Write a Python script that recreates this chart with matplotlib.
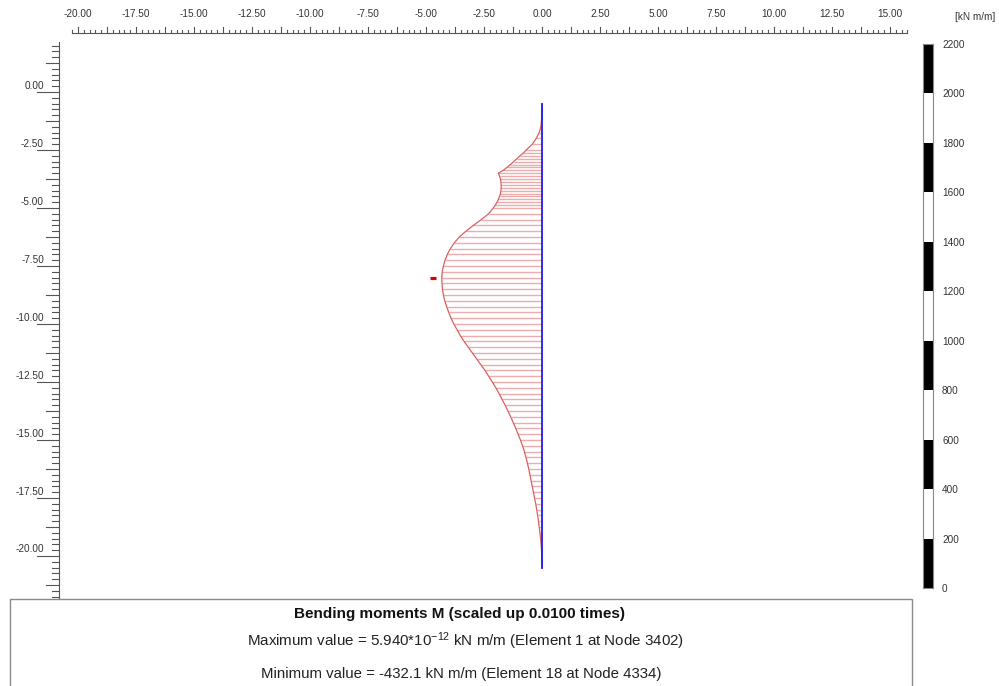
import numpy as np
import matplotlib
matplotlib.use("Agg")
import matplotlib.pyplot as plt
from matplotlib.patches import Rectangle

plt.rcParams['font.family'] = ['Liberation Sans', 'DejaVu Sans']
plt.rcParams['mathtext.default'] = 'regular'

# ---------------- data ----------------
depth = [-0.50, -0.75, -1.00, -1.25, -1.50, -1.75, -2.00, -2.25, -2.50,
         -2.625, -2.75, -2.875, -3.00, -3.125, -3.25, -3.375, -3.50,
         -3.625, -3.75, -3.875, -4.00, -4.125, -4.25, -4.375, -4.50,
         -4.625, -4.75, -4.875, -5.00, -5.25, -5.50, -5.75, -6.00,
         -6.25, -6.50, -6.75, -7.00, -7.25, -7.50, -7.75, -8.00,
         -8.25, -8.50, -8.75, -9.00, -9.25, -9.50, -9.75, -10.00,
         -10.25, -10.50, -10.75, -11.00, -11.25, -11.50, -11.75, -12.00,
         -12.25, -12.50, -12.75, -13.00, -13.25, -13.50, -13.75, -14.00,
         -14.25, -14.50, -14.75, -15.00, -15.25, -15.50, -15.75, -16.00,
         -16.25, -16.50, -16.75, -17.00, -17.25, -17.50, -17.75, -18.00,
         -18.25, -18.50, -18.75, -19.00, -19.25, -19.50, -19.75, -20.00,
         -20.25, -20.50]
moment = [0.0, -0.3, -1.0, -2.5, -5.0, -12.0, -25.0, -42.0, -68.0,
          -80.0, -95.0, -108.0, -122.0, -136.0, -151.0, -167.0, -188.0,
          -183.0, -179.0, -177.0, -176.0, -176.0, -177.0, -179.0, -183.0,
          -188.0, -194.0, -201.0, -210.0, -230.0, -262.0, -296.0, -328.0,
          -356.0, -378.0, -395.0, -408.0, -418.0, -425.0, -430.0, -432.1,
          -431.0, -429.0, -425.0, -419.0, -411.0, -402.0, -392.0, -380.0,
          -366.0, -352.0, -336.0, -318.0, -300.0, -282.0, -264.0, -246.0,
          -230.0, -214.0, -199.0, -185.0, -172.0, -159.0, -147.0, -135.0,
          -124.0, -113.0, -103.0, -93.0, -84.0, -76.0, -69.0, -63.0,
          -57.0, -52.0, -47.0, -42.0, -37.0, -32.0, -27.0, -23.0,
          -19.0, -15.0, -12.0, -9.0, -6.0, -4.0, -2.0, -1.0,
          -0.3, 0.0]
scale_factor = 0.01
x_label_values = [-20.0, -17.5, -15.0, -12.5, -10.0, -7.5, -5.0, -2.5, 0.0,
                  2.5, 5.0, 7.5, 10.0, 12.5, 15.0]
y_label_values = [0.0, -2.5, -5.0, -7.5, -10.0, -12.5, -15.0, -17.5, -20.0]
legend_levels = [0, 200, 400, 600, 800, 1000, 1200, 1400, 1600, 1800, 2000, 2200]
legend_unit = "[kN m/m]"
title_text = "Bending moments M (scaled up 0.0100 times)"
max_text = r"Maximum value = 5.940*10$^{-12}$ kN m/m (Element 1 at Node 3402)"
min_text = "Minimum value = -432.1 kN m/m (Element 18 at Node 4334)"

# ---------------- layout ----------------
W, H = 999, 686
PX = 23.2          # pixels per metre
X0, Y0 = 542, 92   # pixel position of the origin
fig = plt.figure(figsize=(W / 100, H / 100), dpi=100)
ax = fig.add_axes([0, 0, 1, 1])
ax.set_xlim(-X0 / PX, (W - X0) / PX)
ax.set_ylim((Y0 - H) / PX, Y0 / PX)
ax.axis('off')


def px(n):
    return n / PX


def xd(p):
    return (p - X0) / PX


def yd(p):
    return (Y0 - p) / PX


axis_col = '#555555'
text_col = '#333333'

# top axis
tbase = yd(33)
tticks = np.arange(-20.25, 15.76, 0.25)
ax.plot([tticks[0], tticks[-1]], [tbase, tbase], color=axis_col, lw=0.8)
for t in tticks:
    long_ = abs(t / 1.25 - round(t / 1.25)) < 1e-6
    ax.plot([t, t], [tbase, tbase + px(6 if long_ else 3)], color=axis_col, lw=0.8)
for v in x_label_values:
    ax.text(v, yd(14), f"{v + 0.0:.2f}", ha='center', va='center',
            fontsize=7.2, color=text_col)

# left axis
lx = xd(59)
lticks = np.arange(-21.75, 2.01, 0.25)
ax.plot([lx, lx], [lticks[0] - px(1), lticks[-1] + px(4)], color=axis_col, lw=0.8)
for t in lticks:
    if abs(t / 2.5 - round(t / 2.5)) < 1e-6:
        L = 22
    elif abs(t / 1.25 - round(t / 1.25)) < 1e-6:
        L = 13
    else:
        L = 7
    ax.plot([lx - px(L), lx], [t, t], color=axis_col, lw=0.8)
for v in y_label_values:
    ax.text(xd(44), v + px(6.5), f"{v + 0.0:.2f}", ha='right', va='center',
            fontsize=7.2, color=text_col)

# moment diagram
dep = np.array(depth)
xs = np.array(moment) * scale_factor
ax.hlines(dep, 0, xs, colors='#d84a4a', alpha=0.45, lw=1.0)
ax.plot(xs, dep, color='#d24545', lw=0.9, alpha=0.85)
ax.plot([0, 0], [dep[0], dep[-1]], color='#1a1aff', lw=1.3)
imin = int(np.argmin(xs))
ax.plot(xs[imin] - px(9), dep[imin], marker='_', ms=4.5, mew=2.3,
        color='#e00000')

# legend scale bar
cax = fig.add_axes([923 / W, 1 - 588 / H, 10 / W, 544 / H])
lv = np.array(legend_levels)
cax.bar(0.5, np.diff(lv), bottom=lv[:-1], width=1.0,
        color=['black' if i % 2 == 0 else 'white' for i in range(len(lv) - 1)])
cax.set_xlim(0, 1)
cax.set_ylim(lv[0], lv[-1])
cax.set_xticks([])
cax.yaxis.tick_right()
cax.set_yticks(lv)
cax.set_yticklabels([str(v) for v in lv], fontsize=7.2, color=text_col)
cax.tick_params(axis='y', length=0, pad=6.5)
for s in cax.spines.values():
    s.set_color('#888888')
    s.set_linewidth(0.8)
fig.text(955 / W, 1 - 17 / H, legend_unit, ha='left', va='center',
         fontsize=7.2, color=text_col)

# info box
fig.patches.append(Rectangle((10 / W, -0.05), 902 / W, 0.05 + 1 - 599 / H,
                             transform=fig.transFigure, fill=False,
                             edgecolor='#8a8a8a', lw=1.0))
fig.text(460 / W, 1 - 614 / H, title_text, ha='center', va='center',
         fontsize=11, fontweight='bold', color='#111111')
fig.text(465 / W, 1 - 641 / H, max_text, ha='center', va='center',
         fontsize=10.9, color='#222222')
fig.text(461 / W, 1 - 674 / H, min_text, ha='center', va='center',
         fontsize=10.8, color='#222222')

fig.savefig('out.png', dpi=100)
